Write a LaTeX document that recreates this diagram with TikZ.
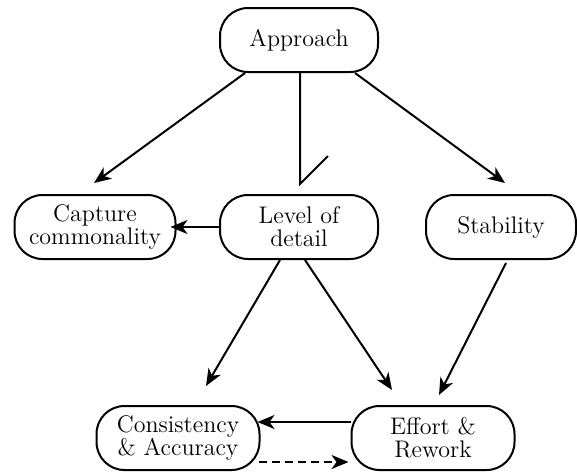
\documentclass[tikz,border=0pt]{standalone}
\usepackage{fontspec}
\usetikzlibrary{arrows.meta,calc}
\begin{document}
\begin{tikzpicture}[x=0.5pt,y=-0.5pt,
  box/.style={draw,line width=1pt,rounded corners=14pt,align=center,
    font=\fontsize{12}{11.6}\selectfont\addfontfeature{LetterSpace=5},inner sep=0pt},
  arr/.style={line width=1pt,-{Stealth[length=8.5pt,width=7pt,inset=2.5pt]}},
  darr/.style={arr,dash pattern=on 4pt off 2.5pt}]
\useasboundingbox (0,0) rectangle (577,472);
\node[box,minimum width=79pt,minimum height=32pt] (A) at (299,40) {Approach};
\node[box,minimum width=80.5pt,minimum height=32pt] (C) at (95,227) {Capture\\commonality};
\node[box,minimum width=79pt,minimum height=32pt] (L) at (299,227) {Level of\\detail};
\node[box,minimum width=75pt,minimum height=32pt] (S) at (501,227) {Stability};
\node[box,minimum width=81.5pt,minimum height=32pt] (CA) at (178,438) {Consistency\\\& Accuracy};
\node[box,minimum width=81.5pt,minimum height=32pt] (E) at (433,438) {Effort \&\\Rework};
\draw[arr] ($(A.south)+(-54,0)$) -- ($(C.north)+(-1,-11)$);
\draw[arr] ($(A.south)+(56,0)$) -- ($(S.north)+(4,-11)$);
\coordinate (m1) at ($(L.north)+(1,-10)$);
\coordinate (m2) at ($(m1)+(28,-28)$);
\draw[line width=1pt] ($(A.south)+(1,0)$) -- (m1) -- (m2);
\draw[arr,shorten >=-3pt] (L.west) -- (C.east);
\draw[arr] ($(L.south)+(-19,0)$) -- ($(CA.north)+(28,-19)$);
\draw[arr] ($(L.south)+(6,0)$) -- ($(E.north)+(-41,-15)$);
\draw[arr] ($(S.south)+(5,3)$) -- ($(E.north)+(6,-10)$);
\draw[arr] ($(E.west)+(0,-16)$) -- ($(CA.east)+(-3,-16)$);
\draw[darr] ($(CA.east)+(-2,24)$) -- ($(E.west)+(-2,24)$);
\end{tikzpicture}
\end{document}
